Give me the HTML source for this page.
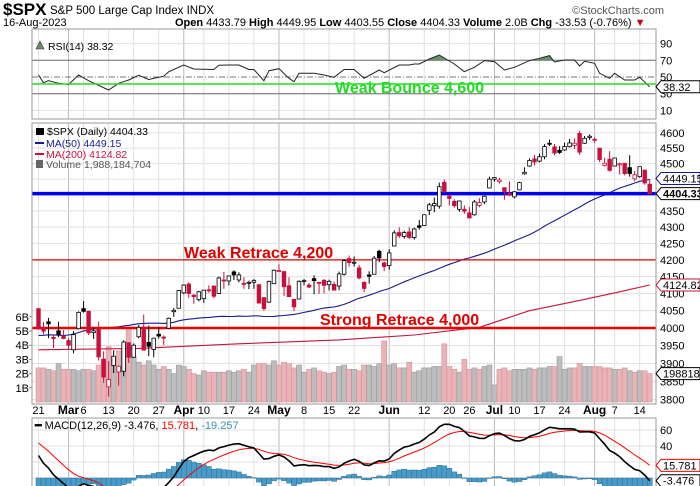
<!DOCTYPE html>
<html><head><meta charset="utf-8">
<style>
html,body{margin:0;padding:0;background:#fff;}
svg{display:block;font-family:"Liberation Sans",Arial,sans-serif;}
</style></head>
<body>
<svg id="chart" width="700" height="486" viewBox="0 0 700 486">
  <defs>
    <clipPath id="cRsi"><rect x="32" y="29" width="624" height="90"/></clipPath>
    <clipPath id="cMain"><rect x="32" y="123" width="624" height="281"/></clipPath>
    <clipPath id="cMacd"><rect x="32" y="418" width="624" height="68"/></clipPath>
  </defs>
  <rect x="0" y="0" width="700" height="486" fill="#fff"/>
  <g>
    <text x="3" y="15" font-size="17" font-weight="bold">$SPX</text>
    <text x="50" y="14" font-size="11.5">S&amp;P 500 Large Cap Index  INDX</text>
    <text x="664" y="14" font-size="11" fill="#555" text-anchor="end">©StockCharts.com</text>
    <text x="3" y="26" font-size="11">16-Aug-2023</text>
    <text x="175" y="26" font-size="11"><tspan font-weight="bold">Open</tspan> 4433.79 <tspan font-weight="bold">High</tspan> 4449.95 <tspan font-weight="bold">Low</tspan> 4403.55 <tspan font-weight="bold">Close</tspan> 4404.33 <tspan font-weight="bold">Volume</tspan> 2.0B <tspan font-weight="bold">Chg</tspan> -33.53 (-0.76%) <tspan fill="#c00">▼</tspan></text>
  </g>
  <g id="layer"></g>
</svg>
<script>
// ---- data ----
const priorCloses=[3941,3933,3963,3934,3990,4019,3995,3895,3852,3817,3821,3878,3822,3845,3829,3783,3849,3839,
3824,3853,3808,3895,3892,3919,3969,3983,3999,3990,3928,3898,3972,4019,4017,4016,4060,4070,4017,4077,
4119,4180,4136,4111,4164,4118,4082,4090,4137,4136,4148,4090,4079];
const opens=[4056,4001,4018,3973,3992,3977,
3964,3938,3998,4056,4048,3987,3998,3912,3835,3894,3876,3878,3958,3917,3975,4002,3959,3939,3982,3974,3999,4047,4057,
4102,4128,4095,4082,4085,4111,4122,4100,4140,4137,4164,4140,4130,4132,4133,4126,4088,4075,4129,
4166,4165,4123,4083,4084,4137,4125,4144,4133,4139,4126,4127,4122,4157,4204,4190,4176,4133,4155,4157,4226,4191,
4183,4242,4283,4271,4285,4268,4304,4305,4352,4366,4365,4440,4396,4380,4355,4355,4344,4338,4367,4378,4422,
4450,4442,4423,4405,4394,4416,4467,4492,4515,4508,4522,4566,4554,4543,4544,4555,4559,4598,4566,4585,
4579,4550,4494,4514,4492,4498,4501,4487,4451,4458,4479,4434];
const highs=[4056,4017,4029,3979,4018,3994,
3971,3991,4048,4078,4050,4000,4018,3934,3906,3937,3894,3965,3959,3956,4009,4039,4007,3972,4003,3979,4030,4058,4110,
4127,4133,4099,4108,4109,4124,4124,4150,4164,4152,4169,4163,4148,4138,4143,4128,4089,4138,4171,
4187,4165,4148,4084,4139,4143,4131,4154,4133,4143,4141,4135,4165,4202,4213,4210,4185,4136,4166,4212,4231,4195,
4232,4290,4299,4289,4299,4298,4322,4339,4375,4392,4439,4449,4400,4386,4382,4367,4362,4384,4390,4398,4458,
4456,4454,4423,4443,4412,4442,4488,4517,4528,4532,4563,4578,4564,4556,4568,4580,4582,4607,4590,4595,
4585,4551,4519,4540,4519,4503,4502,4527,4476,4490,4479,4450];
const lows=[3995,3982,3971,3943,3974,3968,
3939,3928,3996,4044,3980,3969,3908,3846,3808,3873,3838,3864,3901,3916,3971,3936,3920,3917,3970,3951,3999,4032,4057,
4098,4087,4070,4077,4073,4102,4086,4100,4114,4124,4140,4133,4114,4113,4114,4071,4049,4072,4128,
4164,4093,4090,4049,4084,4124,4116,4098,4099,4100,4109,4110,4110,4153,4180,4180,4142,4104,4129,4157,4193,4166,
4171,4242,4266,4264,4263,4261,4292,4304,4337,4346,4357,4407,4367,4360,4347,4341,4328,4335,4361,4371,4422,
4442,4436,4385,4397,4389,4416,4464,4490,4494,4504,4514,4557,4527,4531,4541,4552,4547,4528,4564,4577,
4567,4505,4491,4474,4491,4465,4462,4458,4443,4454,4432,4404];
const closes=[3997,3991,4012,3970,3982,3970,
3951,3981,4045,4048,3986,3992,3918,3862,3855,3920,3892,3960,3917,3951,4002,3937,3948,3971,3977,3971,4028,4051,4109,
4125,4100,4091,4105,4110,4109,4092,4146,4138,4152,4155,4155,4130,4133,4138,4072,4056,4136,4169,
4168,4120,4091,4061,4136,4138,4119,4138,4131,4124,4136,4110,4158,4198,4192,4193,4146,4115,4151,4205,4206,4180,
4221,4282,4273,4283,4268,4294,4299,4338,4369,4373,4426,4410,4389,4366,4381,4349,4328,4378,4376,4396,4450,
4455,4447,4411,4399,4410,4439,4472,4510,4505,4522,4555,4565,4534,4536,4555,4567,4566,4537,4582,4589,
4577,4513,4501,4478,4518,4499,4468,4468,4464,4490,4438,4404];
const volumesB=[2.4,2.4,2.3,2.2,2.7,2.3,
2.3,2.3,2.2,2.3,2.3,2.2,2.6,3.0,3.9,3.1,3.6,3.7,5.2,3.2,2.8,2.6,2.9,2.6,2.3,2.5,2.3,2.0,2.6,
2.5,2.3,2.0,1.9,2.2,2.1,2.1,2.1,2.1,2.2,2.1,2.2,2.3,2.1,2.6,2.7,2.7,2.6,2.9,
2.6,2.8,2.7,2.4,2.6,2.1,2.3,2.4,2.2,2.1,2.0,2.1,2.5,2.6,2.3,2.3,2.2,2.6,2.6,2.5,2.7,4.3,
2.6,2.7,2.4,2.4,2.8,2.1,2.2,2.4,2.4,2.5,2.5,4.1,2.5,2.3,2.1,3.0,2.3,2.4,2.3,2.5,2.6,
1.2,2.3,2.4,2.2,2.3,2.3,2.3,2.4,2.3,2.4,2.4,2.5,2.5,3.2,2.3,2.4,2.4,2.7,2.5,2.5,
2.5,2.5,2.4,2.4,2.3,2.3,2.4,2.2,2.1,2.2,2.2,2.0];
const rsiIdx=[0,1,2,4,6,8,10,14,16,18,20,22,25,26,29,31,35,36,38,40,42,43,45,46,48,50,51,52,55,57,59,61,63,65,68,69,72,74,75,76,78,80,83,85,87,89,91,93,95,98,100,102,103,105,107,108,109,111,112,114,115,117,119,120,122];
const rsiVals=[52.4,43,45.6,42.4,41,52.4,45.6,34.4,42.4,46.4,52,47,51,56.4,64.4,59.6,59,64,64.4,64.4,59,59,45.6,57.6,60,48.4,44.4,54.4,54.4,52.4,49.6,59,59,48.4,58.4,55.2,64.4,64.4,65.6,65.6,71.6,76.4,65.6,56.4,61.6,69.6,68.4,58.4,61.6,69.6,72.4,75.6,68,70.4,70.4,63.2,68.8,66.4,54.4,48.4,54.4,46.4,46.4,49.6,38.32];
const ma200Idx=[0,20,40,60,75,88,98,108,116,122];
const ma200Vals=[3938,3942,3955,3966,3980,4002,4050,4080,4105,4125];
const tickIdx=[0,6,9,14,19,24,29,33,38,43,48,53,58,63,70,77,82,86,91,95,100,105,111,115,120];
const tickLabels=["21","Mar","6","13","20","27","Apr","10","17","24","May","8","15","22","Jun","12","20","26","Jul","10","17","24","Aug","7","14"];
const monthTicks=["Mar","Apr","May","Jun","Jul","Aug"];
const priceTicks=[3800,3850,3900,3950,4000,4050,4100,4150,4200,4250,4300,4350,4400,4450,4500,4550,4600];
const priceLabels=[3800,3850,3900,3950,4000,4050,4100,4150,4200,4250,4300,4350,4500,4550,4600];
const volTicks=[1,2,3,4,5,6];
const rsiTicks=[10,30,50,70,90];
const macdTicks=[0,20,40,60];
const levels=[4600,4404.33,4200,4000];

// ---- scales ----
const xI=i=>38.5+i*5.01;
const yP=p=>328-Math.log(p/4000)*1396;
const yV=v=>402-v*14.2;
const yR=r=>77-(r-50)*0.835;
const yM=m=>478-m*0.8;
const NS="http://www.w3.org/2000/svg";
const layer=document.getElementById('layer');
function mk(tag,attrs,parent){const e=document.createElementNS(NS,tag);for(const k in attrs)e.setAttribute(k,attrs[k]);(parent||layer).appendChild(e);return e;}
function txt(s,attrs,parent){const e=mk('text',attrs,parent);e.textContent=s;return e;}
const N=closes.length;

// ---- indicators ----
const all=priorCloses.concat(closes);const P=priorCloses.length;
const ma50=[];for(let i=0;i<N;i++){let s=0;for(let k=P+i-49;k<=P+i;k++)s+=all[k];ma50.push(s/50);}
const macd=[],sig=[];{let e12=all[0],e26=all[0],s=0;for(let k=0;k<all.length;k++){e12=e12+(all[k]-e12)*2/13;e26=e26+(all[k]-e26)*2/27;const m=e12-e26;s=k===0?m:s+(m-s)*0.2;if(k>=P){macd.push(m);sig.push(s);}}}

// ---- panels / grids ----
function panel(y,h,name){const g=mk('g',{});
 for(let t=0;t<tickIdx.length;t++){const l=mk('line',{x1:xI(tickIdx[t]),x2:xI(tickIdx[t]),y1:y,y2:y+h,stroke:monthTicks.includes(tickLabels[t])?'#bbb':'#e0e0e0','stroke-width':1},g);}
 return g;}
const gR=panel(29,90,'rsi-panel');
rsiTicks.forEach(v=>{const l=mk('line',{x1:32,x2:656,y1:yR(v),y2:yR(v),stroke:(v===70||v===30)?'#666':(v===50?'#777':'#e0e0e0'),'stroke-width':1,'stroke-dasharray':v===50?'6,2,1,2':'none'},gR);

const t=txt(String(v),{x:660,y:yR(v)+4,'font-size':11},gR);});
const gM=panel(123,281,'price-panel');
priceTicks.forEach(v=>{const l=mk('line',{x1:32,x2:656,y1:yP(v),y2:yP(v),stroke:'#e0e0e0','stroke-width':1},gM);});
priceLabels.forEach(v=>{const t=txt(String(v),{x:660,y:yP(v)+4,'font-size':11},gM);});
volTicks.forEach(v=>{const t=txt(v+'B',{x:29,y:yV(v)+4,'font-size':11,'text-anchor':'end'},gM);
const m=mk('line',{x1:29,x2:32,y1:yV(v),y2:yV(v),stroke:'#888'},gM);});
const gD=panel(418,68,'macd-panel');
macdTicks.forEach(v=>{const l=mk('line',{x1:32,x2:656,y1:yM(v),y2:yM(v),stroke:'#e0e0e0'},gD);
if(v>=40){const t=txt(String(v),{x:660,y:yM(v)+4,'font-size':11},gD);}});

// x tick labels
tickIdx.forEach((ix,t)=>{const isM=monthTicks.includes(tickLabels[t]);const e=txt(tickLabels[t],{x:xI(ix),y:414,'font-size':isM?12:11,'font-weight':isM?'bold':'normal','text-anchor':'middle'});
});

// ---- RSI ----
const rg=mk('g',{'clip-path':'url(#cRsi)'});
let rp='';rsiIdx.forEach((ix,k)=>{rp+=(k?'L':'M')+xI(ix).toFixed(1)+','+yR(rsiVals[k]).toFixed(1);});
const rc=mk('clipPath',{id:'cOver'},rg);mk('rect',{x:32,y:29,width:624,height:yR(70)-29},rc);
const rf=mk('path',{d:'M'+xI(rsiIdx[0])+','+yR(70)+rp.replace(/^M/,'L')+'L'+xI(rsiIdx[rsiIdx.length-1])+','+yR(70)+'Z',fill:'#6b8e6b','clip-path':'url(#cOver)'},rg);

const rl=mk('path',{d:rp,fill:'none',stroke:'#222','stroke-width':1},rg);

// ---- volume ----
const vg=mk('g',{'clip-path':'url(#cMain)'});
volumesB.forEach((v,i)=>{const down=i>0?closes[i]<closes[i-1]:closes[i]<opens[i];
const b=mk('rect',{x:xI(i)-2.5,y:yV(v),width:5,height:402-yV(v),fill:down?'#e8b4b8':'#bdbdbd',stroke:down?'#d9909a':'#999','stroke-width':0.6},vg);
});

// ---- MAs ----
const mg=mk('g',{'clip-path':'url(#cMain)'});
let p50='';ma50.forEach((v,i)=>{p50+=(i?'L':'M')+xI(i).toFixed(1)+','+yP(v).toFixed(1);});
const l50=mk('path',{d:p50,fill:'none',stroke:'#1a1a8c','stroke-width':1.1},mg);
let p200='';ma200Idx.forEach((ix,k)=>{p200+=(k?'L':'M')+xI(ix).toFixed(1)+','+yP(ma200Vals[k]).toFixed(1);});
const l200=mk('path',{d:p200,fill:'none',stroke:'#c8143c','stroke-width':1.1},mg);

// ---- level lines ----
const lg=mk('g',{});
const a1=mk('line',{x1:32,x2:656,y1:84,y2:84,stroke:'#22dd22','stroke-width':1.6},lg);
const a2=mk('line',{x1:32,x2:656,y1:yP(levels[1]),y2:yP(levels[1]),stroke:'#0000ee','stroke-width':3.5},lg);
const a3=mk('line',{x1:32,x2:656,y1:yP(levels[2]),y2:yP(levels[2]),stroke:'#e00000','stroke-width':1.2},lg);
const a4=mk('line',{x1:32,x2:656,y1:yP(levels[3]),y2:yP(levels[3]),stroke:'#ee0000','stroke-width':2.5},lg);

// ---- candles ----
const cg=mk('g',{'clip-path':'url(#cMain)'});
closes.forEach((c,i)=>{const o=opens[i];const prev=i>0?closes[i-1]:o;const col=c<prev?'#c8103c':'#000';const x=xI(i);
const w=mk('line',{x1:x,x2:x,y1:yP(highs[i]),y2:yP(lows[i]),stroke:col,'stroke-width':1},cg);
const top=yP(Math.max(o,c)),bot=yP(Math.min(o,c));
const b=mk('rect',{x:x-1.8,y:top,width:3.6,height:Math.max(bot-top,1),fill:c>o?'#fff':col,stroke:col,'stroke-width':0.8},cg);});

// ---- MACD ----
const dg=mk('g',{'clip-path':'url(#cMacd)'});
macd.forEach((m,i)=>{const h=m-sig[i];const y0=yM(0),y1=yM(h);
const b=mk('rect',{x:xI(i)-2.5,y:Math.min(y0,y1),width:5,height:Math.max(Math.abs(y1-y0),0.5),fill:'#4a9cc8',stroke:'#2a6f94','stroke-width':0.5},dg);
});
let ps='',pm='';macd.forEach((m,i)=>{pm+=(i?'L':'M')+xI(i).toFixed(1)+','+yM(m).toFixed(1);ps+=(i?'L':'M')+xI(i).toFixed(1)+','+yM(sig[i]).toFixed(1);});
const sl=mk('path',{d:ps,fill:'none',stroke:'#f00','stroke-width':1},dg);
const ml=mk('path',{d:pm,fill:'none',stroke:'#000','stroke-width':1.6},dg);

// ---- borders ----
[[32,29,624,90,'rsi-border'],[32,123,624,281,'price-border'],[32,418,624,70,'macd-border']].forEach(r=>{const e=mk('rect',{x:r[0],y:r[1],width:r[2],height:r[3],fill:'none',stroke:'#999','stroke-width':1});});

// ---- annotation texts ----
const at=[["Weak Bounce 4,600",335,93,'#22dd22','weak-bounce-label'],["Weak Retrace 4,200",184,258,'#e00000','weak-retrace-label'],["Strong Retrace 4,000",320,325,'#e00000','strong-retrace-label']];
at.forEach(a=>{const e=txt(a[0],{x:a[1],y:a[2],'font-size':16,'font-weight':'bold',fill:a[3]});});

// ---- legends ----
const lgd=[["RSI(14) 38.32",48,50,'#000','rsi-legend'],["$SPX (Daily) 4404.33",47,135,'#000','price-legend'],["MA(50) 4449.15",46,147,'#1a1a8c','ma50-legend'],["MA(200) 4124.82",46,158,'#c8143c','ma200-legend'],["Volume 1,988,184,704",46,168,'#555','volume-legend']];
lgd.forEach(a=>{const e=txt(a[0],{x:a[1],y:a[2],'font-size':10.5,fill:a[3]});});
const i1=mk('path',{d:'M36,49 L40,41 L44,49 Z',fill:'#6b8e6b',stroke:'#333','stroke-width':0.6});
const i2=mk('rect',{x:36,y:128,width:8,height:7,fill:'#000'});
const i3=mk('line',{x1:35,x2:44,y1:143,y2:143,stroke:'#1a1a8c','stroke-width':2});
const i4=mk('line',{x1:35,x2:44,y1:154,y2:154,stroke:'#c8143c','stroke-width':2});
const i5=mk('rect',{x:36,y:160,width:7,height:8,fill:'#666'});
const mlab=mk('text',{x:35,y:429,'font-size':11});
mlab.innerHTML='<tspan font-weight="bold">━</tspan> MACD(12,26,9) -3.476, <tspan fill="#f00">15.781</tspan>, <tspan fill="#3a8fc0">-19.257</tspan>';

// ---- value tags ----
function tag(s,y,col,bold,name){const g=mk('g',{});
 mk('path',{d:`M656,${y} L661,${y-6} L700,${y-6} L700,${y+6} L661,${y+6} Z`,fill:'#fff',stroke:col,'stroke-width':1},g);
 txt(s,{x:663,y:y+4,'font-size':11,'font-weight':bold?'bold':'normal',fill:'#000'},g);}
tag(rsiVals[rsiVals.length-1].toFixed(2),yR(rsiVals[rsiVals.length-1]),'#000',false,'rsi-value-tag');
tag('4449.15',yP(ma50[N-1])-1,'#1a1a8c',false,'ma50-value-tag');
tag('4404.33',yP(closes[N-1]),'#000',true,'close-value-tag');
tag('4124.82',yP(ma200Vals[ma200Vals.length-1]),'#c8143c',false,'ma200-value-tag');
tag('1988184',yV(volumesB[N-1]),'#000',false,'volume-value-tag');
tag('15.781',Math.min(yM(sig[N-1]),472),'#f00',false,'signal-value-tag');
tag('-3.476',Math.max(yM(macd[N-1]),480),'#000',false,'macd-value-tag');
</script>
</body></html>
